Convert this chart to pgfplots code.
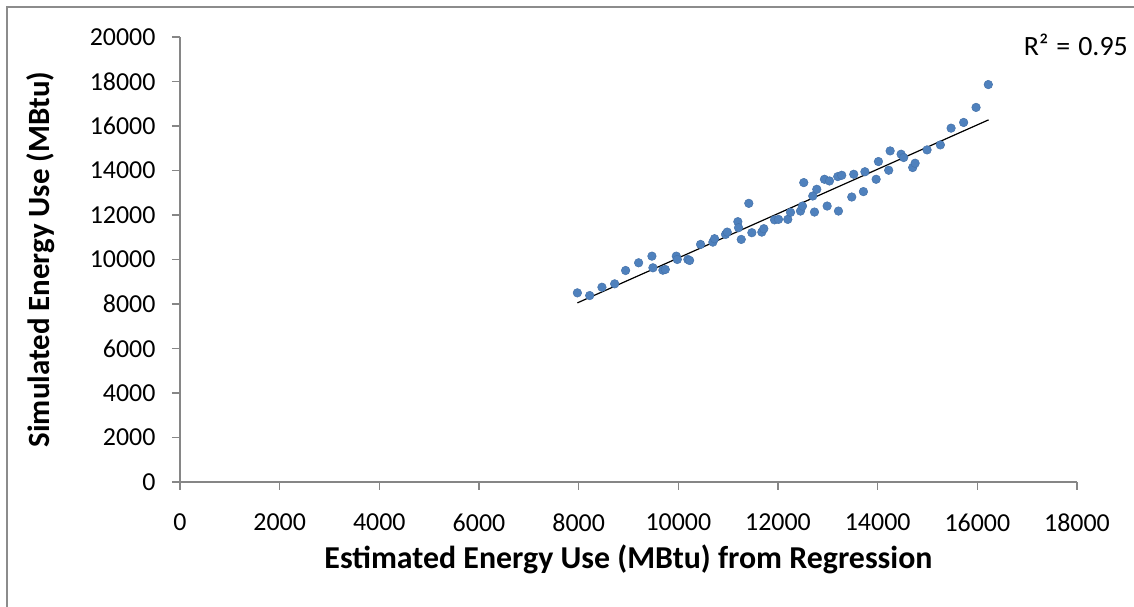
\documentclass[border=0pt]{standalone}
\usepackage{pgfplots}
\pgfplotsset{compat=1.18}
\usepackage{fontspec}
\setmainfont{Carlito}
\definecolor{ptblue}{RGB}{79,129,189}
\definecolor{ptedge}{RGB}{70,115,170}
\definecolor{axgray}{RGB}{134,134,134}
\definecolor{framegray}{RGB}{140,140,140}
\begin{document}
\begin{tikzpicture}[x=1bp,y=1bp]
\useasboundingbox (-180,-125) rectangle (954,482);
\draw[framegray,line width=1.5bp] (-173,-140) -- (-173,475) -- (970,475);
\begin{axis}[
  at={(0,0)}, anchor=origin,
  scale only axis, width=897bp, height=445bp,
  xmin=0, xmax=18000, ymin=0, ymax=20000,
  xtick={0,2000,...,18000}, ytick={0,2000,...,20000},
  scaled ticks=false,
  /pgf/number format/.cd, 1000 sep={}, assume math mode=true, /pgfplots/.cd,
  axis x line*=bottom, axis y line*=left,
  axis line style={axgray,line width=1.3bp,-},
  tick style={axgray,line width=1.3bp},
  tick align=outside, major tick length=8bp,
  ticklabel style={font=\fontsize{26}{31}\selectfont, text=black},
  xticklabel style={yshift=-20bp},
  yticklabel style={xshift=-13bp},
  xlabel={\textbf{Estimated Energy Use (MBtu) from Regression}},
  ylabel={\textbf{Simulated Energy Use (MBtu)}},
  xlabel style={font=\fontsize{32}{38}\selectfont, yshift=-7bp},
  ylabel style={font=\fontsize{31}{37}\selectfont, yshift=28bp},
  clip=false,
]
\addplot[only marks, mark=*, mark size=4.3bp, mark options={fill=ptblue, draw=ptedge, line width=0.5bp}] coordinates {
(7974,8501) (8221,8379) (8467,8753) (8722,8906) (8942,9506) (9203,9852)
(9470,10150) (9490,9627) (9690,9519) (9738,9551) (9959,10150) (9979,10001)
(10191,10001) (10226,9956) (10446,10677) (10693,10781) (10727,10934)
(10947,11127) (10981,11231) (11194,11699) (11208,11429) (11262,10902)
(11414,12524) (11475,11204) (11675,11231) (11715,11384) (11930,11781)
(12010,11803) (12196,11803) (12251,12118) (12451,12177) (12491,12402)
(12517,13456) (12732,12132) (12698,12853) (12778,13155) (12932,13605)
(13033,13529) (12986,12402) (13213,12177) (13199,13727) (13279,13785)
(13480,12808) (13520,13830) (13714,13051) (13744,13943) (13969,13605)
(14015,14402) (14221,14011) (14250,14880) (14470,14731) (14522,14583)
(14703,14132) (14751,14326) (14991,14925) (15258,15150) (15473,15903)
(15725,16159) (15974,16835) (16220,17862)
};
\addplot[black, line width=1.2bp] coordinates {(7974,8050) (16226,16277)};
\end{axis}
\node[anchor=east, font=\fontsize{28}{33}\selectfont, inner sep=0pt] at (948,437) {R²\hspace{8bp}=\hspace{8bp}0.95};
\end{tikzpicture}
\end{document}
